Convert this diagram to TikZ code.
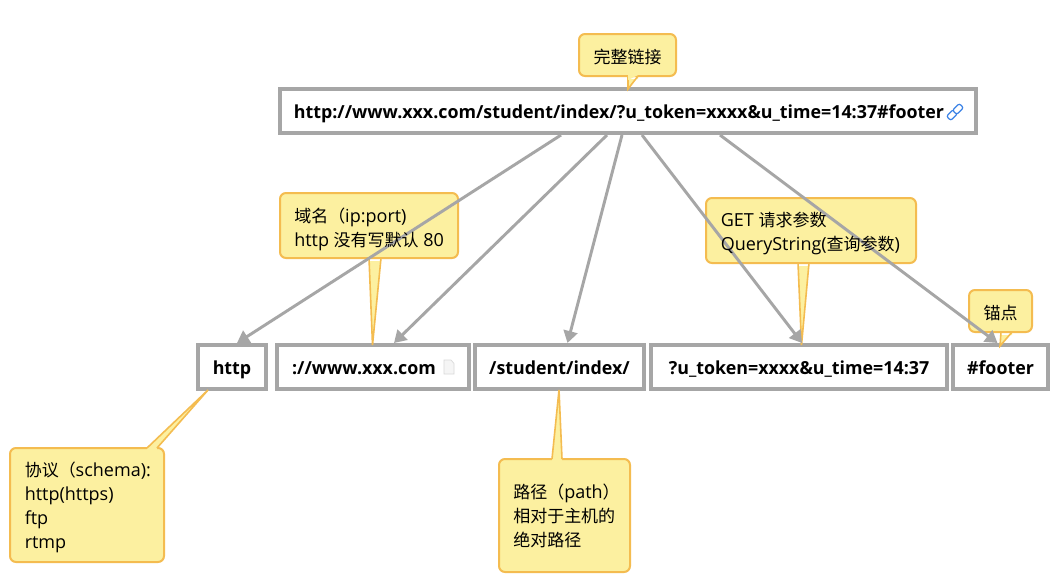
\documentclass[tikz,border=0pt]{standalone}
\usepackage{fontspec}
\setmainfont{Open Sans}[BoldFeatures={FakeStretch=0.991}]
\newfontfamily\zhfont{Noto Sans CJK SC}[Scale=0.944]
\newcommand{\zh}[1]{{\zhfont #1}}
\newcommand{\firstline}{\rule{0pt}{14pt}}
\definecolor{boxgray}{HTML}{A6A6A6}
\definecolor{noteline}{HTML}{F4BC50}
\definecolor{notefill}{HTML}{FCF0A0}
\definecolor{linkblue}{HTML}{3B82E6}
\usetikzlibrary{arrows.meta}
\tikzset{
  x=0.75pt,y=-0.75pt,
  urlbox/.style={draw=boxgray,line width=3pt,fill=white,rectangle,inner sep=0pt,font=\fontsize{13.5pt}{18pt}\selectfont\bfseries,text=black,text height=12pt,text depth=1.5pt},
  conn/.style={draw=boxgray,line width=2.2pt,-{Triangle[length=9pt,width=10.5pt]},shorten >=0pt},
  notebox/.style={draw=noteline,line width=1.5pt,fill=notefill,rounded corners=4.5pt,rectangle,inner sep=0pt},
  tailfill/.style={fill=notefill,draw=none},
  tailline/.style={draw=noteline,line width=1.2pt,line join=miter},
  notetext/.style={inner sep=0pt,anchor=north west,align=left,text=black,font=\fontsize{13.5pt}{18pt}\selectfont},
  notecentre/.style={inner sep=0pt,anchor=center,text=black,yshift=-1.5pt,font=\fontsize{13.5pt}{18pt}\selectfont},
}
\newcommand{\ubox}[6]{\node[urlbox,minimum width=#3*0.75pt-3pt,minimum height=#4*0.75pt-3pt] (#1) at (#5,#6) {#2};}
\newcommand{\nbox}[5]{\node[notebox,minimum width=#2*0.75pt-1.5pt,minimum height=#3*0.75pt-1.5pt] (#1) at (#4,#5) {};}
\newcommand{\tail}[5]{%
  \fill[tailfill] (#1,#3+3) -- (#1,#3) -- (#4,#5) -- (#2,#3) -- (#2,#3+3) -- cycle;
  \draw[tailline] (#1,#3) -- (#4,#5) -- (#2,#3);
}
\begin{document}
\begin{tikzpicture}
\useasboundingbox (0,0) rectangle (1062,586);
\fill[white] (0,0) rectangle (1062,586);

% url boxes
\ubox{url}{http://www.xxx.com/student/index/?u\_token=xxxx\&u\_time=14:37\#footer\kern13.5pt}{700}{48}{628}{111}
\ubox{proto}{http}{72}{48}{232}{367}
\ubox{host}{://www.xxx.com\kern13.5pt}{196}{48}{373}{367}
\ubox{path}{/student/index/}{173}{48}{559.5}{367}
\ubox{query}{?u\_token=xxxx\&u\_time=14:37}{300}{48}{799}{367}
\ubox{anchor}{\#footer}{99}{48}{1000.5}{367}

% callout bodies
\tail{628}{638}{76}{628}{89}
\tail{369}{381}{258}{372.5}{345}
\tail{798}{809}{263}{801.5}{345}
\tail{1001}{1012}{332}{1000}{346}
\nbox{nfull}{99}{44}{627.5}{55}
\nbox{nhost}{180}{67}{369}{225.5}
\nbox{nquery}{212}{67}{811}{230.5}
\nbox{nanchor}{65}{44}{1000.5}{311}
\nbox{nproto}{156}{116}{87}{505}
\nbox{npath}{133}{115}{564.5}{515.5}
\tail{147}{157}{448}{208}{390}
\tail{552}{562}{459}{559}{390}
\fill[tailfill] (628,75) -- (638,75) -- (628,80) -- cycle;

% connectors
\draw[conn] ([xshift=-50.25pt]url.south) -- ([xshift=3.75pt]proto.north);
\draw[conn] ([xshift=-15.75pt]url.south) -- ([xshift=15.75pt]host.north);
\draw[conn] ([xshift=-4.5pt]url.south) -- ([xshift=6pt]path.north);
\draw[conn] ([xshift=10.5pt]url.south) -- ([xshift=2.25pt]query.north);
\draw[conn] ([xshift=69pt]url.south) -- ([xshift=-2.25pt]anchor.north);

% callout texts
\node[notecentre] (tfull) at (nfull) {\zh{完整链接}};
\node[notetext] (thost) at (294,203.3) {\firstline\zh{域名（}ip:port)\\http \zh{没有写默认} 80};
\node[notetext] (tquery) at (720.5,208) {\firstline GET \zh{请求参数}\\QueryString(\zh{查询参数})};
\node[notecentre] (tanchor) at (nanchor) {\zh{锚点}};
\node[notetext] (tproto) at (24.5,458) {\firstline\zh{协议（}schema):\\http(https)\\ftp\\rtmp};
\node[notetext] (tpath) at (513,479.5) {\firstline\zh{路径（}path\zh{）}\\\zh{相对于主机的}\\\zh{绝对路径}};

% link icon
\begin{scope}[shift={(955,112)},rotate=45]
  \draw[linkblue,line width=0.9pt,rounded corners=1.5pt] (-9,-3) rectangle (0.5,3);
  \draw[linkblue,line width=0.9pt,rounded corners=1.5pt,fill=white] (-0.5,-3) rectangle (9,3);
\end{scope}
% page icon
\draw[draw=black!15,fill=black!4,line width=0.5pt] (444,360) -- (451,360) -- (454,363.5) -- (454,374) -- (444,374) -- cycle;
\end{tikzpicture}
\end{document}
